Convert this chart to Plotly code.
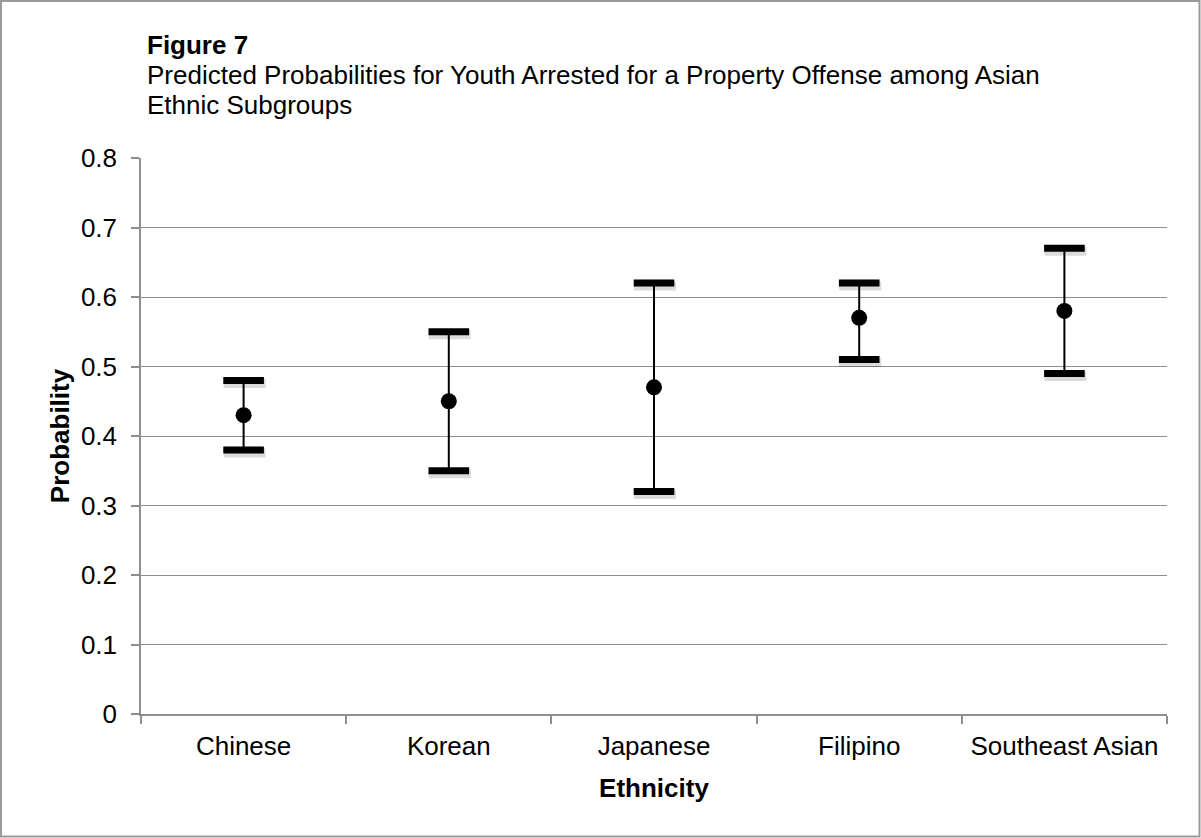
import plotly.graph_objects as go

# Predicted probabilities with confidence bounds by ethnic subgroup
groups = ["Chinese", "Korean", "Japanese", "Filipino", "Southeast Asian"]
estimate = [0.43, 0.45, 0.47, 0.57, 0.58]
lower = [0.38, 0.35, 0.32, 0.51, 0.49]
upper = [0.48, 0.55, 0.62, 0.62, 0.67]

y_ticks = [0, 0.1, 0.2, 0.3, 0.4, 0.5, 0.6, 0.7, 0.8]

W, H = 1201, 838
L, R, T, B = 141, 34, 158, 124
PW, PH = W - L - R, H - T - B
Y_MAX = 0.8


def px_x(px):
    return (px - L) / PW


def px_y(py):
    return (H - B - py) / PH


FONT = "Liberation Sans, Arial, sans-serif"
FS = 26
GRID = "#8e8e8e"

fig = go.Figure()

# soft drop shadow under the caps (drawn on a hidden overlay axis nudged a few px)
sx, sy = 1, 3
for bound in (upper, lower):
    fig.add_trace(go.Scatter(
        x=groups, y=bound, mode="markers", xaxis="x2", yaxis="y2",
        marker=dict(symbol="line-ew-open", size=30, color="rgba(0,0,0,0.14)",
                    line=dict(color="rgba(0,0,0,0.14)", width=9)),
        showlegend=False, hoverinfo="skip"))

# vertical whiskers
fig.add_trace(go.Scatter(
    x=groups, y=estimate, mode="markers",
    marker=dict(size=0.1, color="rgba(0,0,0,0)"),
    error_y=dict(type="data", symmetric=False,
                 array=[u - m for u, m in zip(upper, estimate)],
                 arrayminus=[m - l for m, l in zip(estimate, lower)],
                 color="black", thickness=2, width=0),
    hoverinfo="skip", showlegend=False))

# thick caps at the bounds
for bound in (upper, lower):
    fig.add_trace(go.Scatter(
        x=groups, y=bound, mode="markers",
        marker=dict(symbol="line-ew-open", size=29, color="black",
                    line=dict(color="black", width=7)),
        showlegend=False, hoverinfo="skip"))

# point estimates
fig.add_trace(go.Scatter(
    x=groups, y=estimate, mode="markers",
    marker=dict(symbol="circle", size=16, color="black"),
    showlegend=False))

dx = sx * 5 / PW
dy = sy * Y_MAX / PH

fig.update_layout(
    width=W, height=H,
    margin=dict(l=L, r=R, t=T, b=B),
    paper_bgcolor="white", plot_bgcolor="white",
    font=dict(family=FONT, size=FS, color="black"),
    xaxis=dict(
        type="category", range=[-0.5, 4.5],
        showgrid=False, showline=True, linecolor=GRID, linewidth=1.5,
        ticks="outside", tickson="boundaries", ticklen=8,
        tickcolor=GRID, tickwidth=1.5, ticklabelstandoff=8,
        tickfont=dict(size=FS, family=FONT),
        title=dict(text="<b>Ethnicity</b>", font=dict(size=FS, family=FONT), standoff=19),
    ),
    yaxis=dict(
        range=[0, Y_MAX], tickvals=y_ticks,
        ticktext=[("%g" % v) for v in y_ticks],
        showgrid=True, gridcolor=GRID, gridwidth=1.2,
        showline=True, linecolor=GRID, linewidth=1.5,
        ticks="outside", ticklen=8, tickcolor=GRID, tickwidth=1.5,
        ticklabelstandoff=9,
        tickfont=dict(size=FS, family=FONT),
        zeroline=False,
        title=dict(text="<b>Probability</b>", font=dict(size=FS, family=FONT), standoff=4),
    ),
    xaxis2=dict(type="category", overlaying="x", visible=False,
                range=[-0.5 - dx, 4.5 - dx], categoryarray=groups),
    yaxis2=dict(overlaying="y", visible=False, range=[dy, Y_MAX + dy]),
    annotations=[
        dict(text="<b>Figure 7</b>", xref="paper", yref="paper",
             x=px_x(145), y=px_y(45), xanchor="left", yanchor="middle",
             showarrow=False, font=dict(size=FS, family=FONT)),
        dict(text="Predicted Probabilities for Youth Arrested for a Property Offense among Asian",
             xref="paper", yref="paper",
             x=px_x(145), y=px_y(75), xanchor="left", yanchor="middle",
             showarrow=False, font=dict(size=FS, family=FONT)),
        dict(text="Ethnic Subgroups", xref="paper", yref="paper",
             x=px_x(145), y=px_y(104.5), xanchor="left", yanchor="middle",
             showarrow=False, font=dict(size=FS, family=FONT)),
    ],
    shapes=[
        dict(type="rect", xref="paper", yref="paper",
             x0=px_x(1), x1=px_x(W - 1.5), y0=px_y(H - 1.5), y1=px_y(1),
             line=dict(color="#9a9a9a", width=2), fillcolor="rgba(0,0,0,0)",
             layer="below"),
    ],
)

fig.write_html("out.html")
